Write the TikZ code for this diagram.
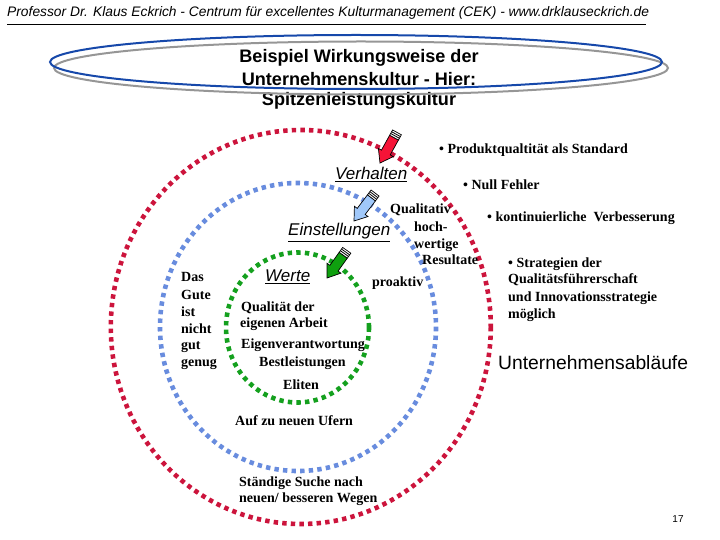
\documentclass[tikz,border=0pt]{standalone}
\usepackage{fontspec}
\setmainfont{Liberation Serif}
\setsansfont{Liberation Sans}
\usetikzlibrary{positioning}

\newcommand{\pencil}[4]{%
	\begin{scope}[shift={(#1)}, rotate=#2]
		\draw[line width=0.7bp, fill=#3] (0,0) -- (12,8.5) -- (12,5) -- (#4-6,5) -- (#4-6,-5) -- (12,-5) -- (12,-8.5) -- cycle;
		\draw[line width=0.7bp, fill=white] (#4-6,5) rectangle (#4,-5);
		\draw[line width=0.8bp] (#4-4,5) -- (#4-4,-5) (#4-2,5) -- (#4-2,-5);
	\end{scope}}

\begin{document}
\begin{tikzpicture}[x=1bp, y=-1bp]

		% Define styles
		\tikzset{
			body/.style={anchor=base west, inner sep=0pt, yshift=-1bp, font=\fontsize{14bp}{16bp}\selectfont\bfseries},
			head/.style={anchor=base, inner sep=0pt, font=\sffamily\bfseries\fontsize{18.1bp}{22bp}\selectfont},
			layer/.style={anchor=base west, inner sep=0pt, yshift=-1bp, font=\sffamily\itshape\fontsize{17bp}{20bp}\selectfont},
			ring/.style={line width=4.6bp, dash pattern=on 4.4bp off 4.2bp}
		}
		\definecolor{ringred}{RGB}{204,20,60}
		\definecolor{ringblue}{RGB}{104,140,222}
		\definecolor{ringgreen}{RGB}{20,160,30}
		\definecolor{ovalblue}{RGB}{22,72,170}
		\definecolor{ovalgray}{RGB}{150,150,150}
		\definecolor{penred}{RGB}{245,20,55}
		\definecolor{penblue}{RGB}{160,200,250}
		\definecolor{pengreen}{RGB}{15,160,15}

		\useasboundingbox (0,0) rectangle (720,540);

		% Header
		\node[anchor=base west, inner sep=0pt, font=\sffamily\itshape\fontsize{13.8bp}{15bp}\selectfont] (header) at (7,16.5)
			{Professor Dr. Klaus Eckrich - Centrum für excellentes Kulturmanagement (CEK) - www.drklauseckrich.de};
		\draw[line width=0.8bp] (7,24.5) -- (646,24.5);

		% Title
		\node[head] (title1) at (359,63) {Beispiel Wirkungsweise der};
		\node[head] (title2) at (359,86) {Unternehmenskultur - Hier:};
		\node[head] (title3) at (359,106) {Spitzenleistungskultur};
		\draw[ovalgray, line width=2bp] (361,68) ellipse [x radius=307, y radius=26.5];
		\draw[ovalblue, line width=2bp] (356,62) ellipse [x radius=306, y radius=27];

		% Rings
		\draw[ring, ringred] (300.8,327) ellipse [x radius=190, y radius=197];
		\draw[ring, ringblue] (298,327) ellipse [x radius=138, y radius=144];
		\draw[ring, ringgreen] (297.5,327.5) ellipse [x radius=71.5, y radius=75];

		% Pencils
		\pencil{380,163}{61}{penred}{35}
		\pencil{354,221}{53}{penblue}{35}
		\pencil{327,278}{54.5}{pengreen}{34}

		% Layer names
		\node[layer] (verhalten) at (335,179) {\underline{Verhalten}};
		\node[layer] (einstellungen) at (288,235) {\underline{Einstellungen}};
		\node[layer] (werte) at (265,281) {\underline{Werte}};
		\node[anchor=base west, inner sep=0pt, font=\sffamily\fontsize{19.3bp}{22bp}\selectfont] (ablaeufe) at (498,369) {Unternehmensabläufe};

		% Right column
		\node[body] (produkt) at (439,153) {• Produktqualtität als Standard};
		\node[body] (fehler) at (463,189) {• Null Fehler};
		\node[body] (verbessern) at (487,221) {• kontinuierliche\ \ Verbesserung};
		\node[body] (strat1) at (508,267) {• Strategien der};
		\node[body] (strat2) at (508,283) {Qualitätsführerschaft};
		\node[body] (strat3) at (508,300) {und Innovationsstrategie};
		\node[body] (strat4) at (508,317) {möglich};

		% Between the rings
		\node[body] (quali) at (390,213) {Qualitativ};
		\node[body] (hoch) at (414,231) {hoch-};
		\node[body] (wertig) at (414,248) {wertige};
		\node[body] (result) at (422,264) {Resultate};
		\node[body] (proaktiv) at (372,286) {proaktiv};

		% Left column
		\foreach \n/\y/\word in {1/281/Das, 2/298/Gute, 3/315/ist, 4/332/nicht, 5/348/gut, 6/365/genug}
			\node[body] (gut\n) at (181,\y) {\word};

		% Inner ring
		\node[body] (arbeit1) at (241,310) {Qualität der};
		\node[body] (arbeit2) at (240,326) {eigenen Arbeit};
		\node[body] (eigen) at (241,347) {Eigenverantwortung};
		\node[body] (best) at (259,365) {Bestleistungen};
		\node[body] (eliten) at (283,388) {Eliten};

		% Below
		\node[body] (ufer) at (235,424) {Auf zu neuen Ufern};
		\node[body] (suche1) at (239,485) {Ständige Suche nach};
		\node[body] (suche2) at (239,501) {neuen/ besseren Wegen};

		% Page number
		\node[anchor=base, inner sep=0pt, font=\sffamily\fontsize{10bp}{11bp}\selectfont] (seite) at (678,522.5) {17};

	\end{tikzpicture}
\end{document}
